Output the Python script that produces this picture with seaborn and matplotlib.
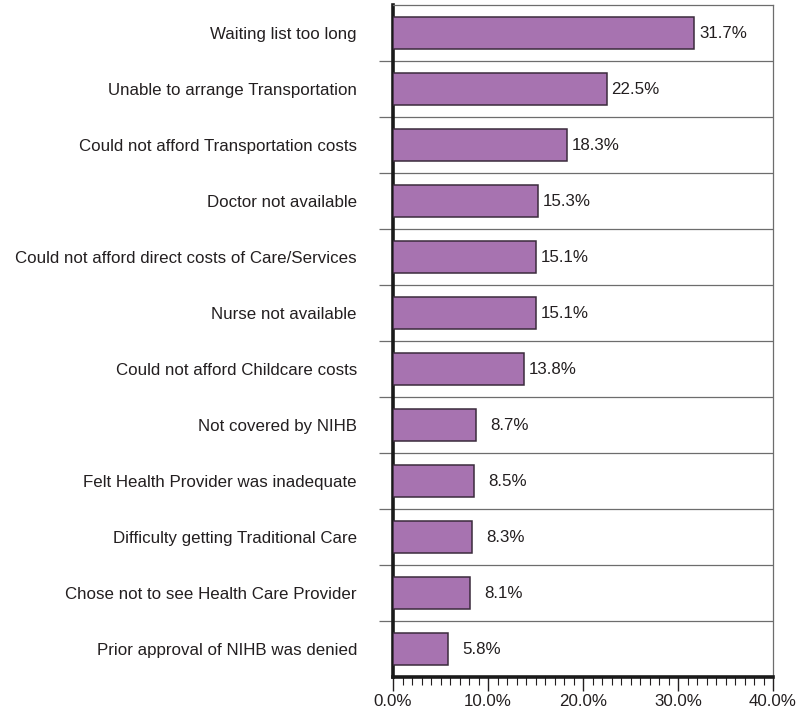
import matplotlib
matplotlib.use("Agg")
import matplotlib.pyplot as plt
import numpy as np
import pandas as pd
import seaborn as sns
from matplotlib.ticker import MultipleLocator, FixedLocator, PercentFormatter

reasons = [
    "Waiting list too long",
    "Unable to arrange Transportation",
    "Could not afford Transportation costs",
    "Doctor not available",
    "Could not afford direct costs of Care/Services",
    "Nurse not available",
    "Could not afford Childcare costs",
    "Not covered by NIHB",
    "Felt Health Provider was inadequate",
    "Difficulty getting Traditional Care",
    "Chose not to see Health Care Provider",
    "Prior approval of NIHB was denied",
]
percent = [31.7, 22.5, 18.3, 15.3, 15.1, 15.1, 13.8, 8.7, 8.5, 8.3, 8.1, 5.8]
x_ticks = [0, 10, 20, 30, 40]

df = pd.DataFrame({"reason": reasons, "percent": percent})

sns.set_theme(style="white")
plt.rcParams["font.family"] = ["Liberation Sans", "DejaVu Sans"]
text_color = "#231f20"
grid_color = "#6d6d6d"
fs = 12.2

fig = plt.figure(figsize=(7.98, 7.15), dpi=100)
ax = fig.add_axes([0.4925, 0.0531, 0.4762, 0.9399])

sns.barplot(data=df, x="percent", y="reason", order=reasons, orient="h",
            color="#a773b0", saturation=1, width=0.56,
            edgecolor="#3b2b3c", linewidth=1.1, ax=ax, zorder=3)

ax.set_xlim(0, 40)
ax.set_ylim(len(reasons) - 0.5, -0.5)
ax.set_xlabel("")
ax.set_ylabel("")

# value labels, right-aligned a fixed distance beyond the bar end
for i, v in enumerate(percent):
    ax.annotate(f"{v:.1f}%", xy=(v, i), xytext=(38, 0), textcoords="offset points",
                ha="right", va="center", fontsize=fs, color=text_color, zorder=4)

# x axis: major every 10 %, minor every 1 %
ax.xaxis.set_major_locator(FixedLocator(x_ticks))
ax.xaxis.set_minor_locator(MultipleLocator(1))
ax.xaxis.set_major_formatter(PercentFormatter(decimals=1))
ax.tick_params(axis="x", which="major", direction="out", length=10, width=1.0,
               color=text_color, labelsize=fs, labelcolor=text_color, pad=2, bottom=True)
ax.tick_params(axis="x", which="minor", direction="out", length=6, width=0.8,
               color=text_color, bottom=True)

# y axis: category labels without tick marks, row separators as minor ticks/grid
ax.tick_params(axis="y", which="major", length=0, labelsize=fs,
               labelcolor=text_color, pad=26)
ax.yaxis.set_minor_locator(FixedLocator(np.arange(0.5, len(reasons) - 0.5, 1)))
ax.tick_params(axis="y", which="minor", direction="out", length=10, width=0.9,
               color=grid_color, left=True)
ax.grid(False)
ax.grid(axis="y", which="minor", color=grid_color, linewidth=0.9, zorder=1)

for side in ["top", "right"]:
    ax.spines[side].set_visible(True)
    ax.spines[side].set_color(grid_color)
    ax.spines[side].set_linewidth(0.9)
for side in ["left", "bottom"]:
    ax.spines[side].set_color("#1a1a1a")
    ax.spines[side].set_linewidth(2.6)

fig.savefig("out.png", dpi=100)
